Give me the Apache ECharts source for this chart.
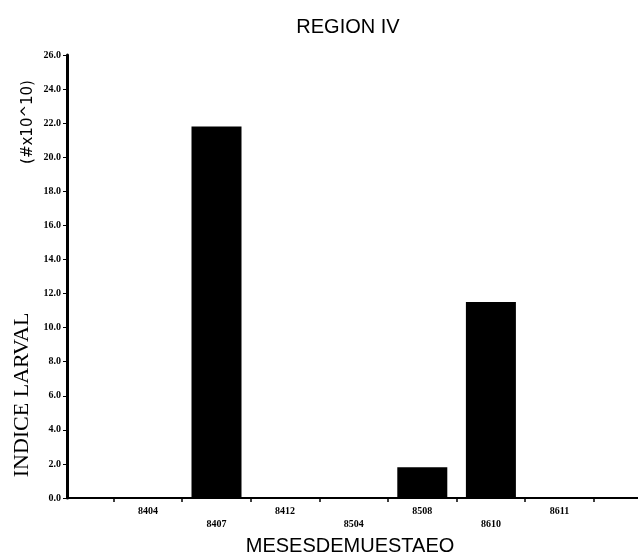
<!DOCTYPE html>
<html>
<head>
<meta charset="utf-8">
<script src="https://cdn.jsdelivr.net/npm/echarts@6/dist/echarts.min.js"></script>
<style>html,body{margin:0;padding:0;background:#fff;}#c{width:638px;height:558px;}</style>
</head>
<body>
<div id="c"></div>
<script>
var categories = ['8404', '8407', '8412', '8504', '8508', '8610', '8611'];
var values = [0, 21.8, 0, 0, 1.8, 11.5, 0];
var yMin = 0, yMax = 26, yStep = 2;
var titleText = 'REGION IV';
var xName = 'MESESDEMUESTAEO';
var yName = 'INDICE LARVAL';
var yUnit = '(#x10^10)';

var chart = echarts.init(document.getElementById('c'));
var lblFont = { fontFamily: 'Liberation Serif', fontWeight: 'bold', fontSize: 10, color: '#000' };
chart.setOption({
  animation: false,
  backgroundColor: '#fff',
  title: {
    text: titleText, left: 343, top: 12, textAlign: 'center',
    textStyle: { fontFamily: 'Liberation Sans', fontWeight: 'normal', fontSize: 20, color: '#000' }
  },
  graphic: [
    { type: 'text', x: 22, y: 395, rotation: Math.PI / 2,
      style: { text: yName, font: '22px "Liberation Serif"', fill: '#000', align: 'center', verticalAlign: 'middle' } },
    { type: 'text', x: 28, y: 122, rotation: Math.PI / 2,
      style: { text: yUnit, font: '15px "DejaVu Sans"', fill: '#000', align: 'center', verticalAlign: 'middle' } },
    { type: 'text', x: 350, y: 546,
      style: { text: xName, font: '20px "Liberation Sans"', fill: '#000', align: 'center', verticalAlign: 'middle' } }
  ],
  grid: [
    { left: 67, right: 0, top: 55, bottom: 60 },
    { left: 113.6, width: 480.2, top: 55, bottom: 60 }
  ],
  xAxis: [
    { type: 'value', gridIndex: 0, min: 0, max: 1,
      axisLine: { show: true, onZero: false, lineStyle: { color: '#000', width: 2 } },
      axisTick: { show: false }, axisLabel: { show: false }, splitLine: { show: false } },
    { type: 'category', gridIndex: 1, data: categories,
      axisLine: { show: false },
      axisTick: { show: true, inside: false, length: 4, lineStyle: { color: '#000', width: 1.5 } },
      axisLabel: Object.assign({ margin: 7, lineHeight: 13, interval: 0,
        formatter: function (v, i) { return i % 2 ? '\n' + v : v; } }, lblFont),
      splitLine: { show: false } }
  ],
  yAxis: [
    { type: 'value', gridIndex: 0, min: yMin, max: yMax, interval: yStep,
      axisLine: { show: true, lineStyle: { color: '#000', width: 3 } },
      axisTick: { show: true, length: 4, lineStyle: { color: '#000', width: 1 } },
      axisLabel: Object.assign({ margin: 6, formatter: function (v) { return v.toFixed(1); } }, lblFont),
      splitLine: { show: false } },
    { type: 'value', gridIndex: 1, min: yMin, max: yMax, interval: yStep, show: false,
      splitLine: { show: false } }
  ],
  series: [
    { type: 'bar', xAxisIndex: 1, yAxisIndex: 1, data: values, barWidth: 50,
      itemStyle: { color: '#000' } }
  ]
});
</script>
</body>
</html>
